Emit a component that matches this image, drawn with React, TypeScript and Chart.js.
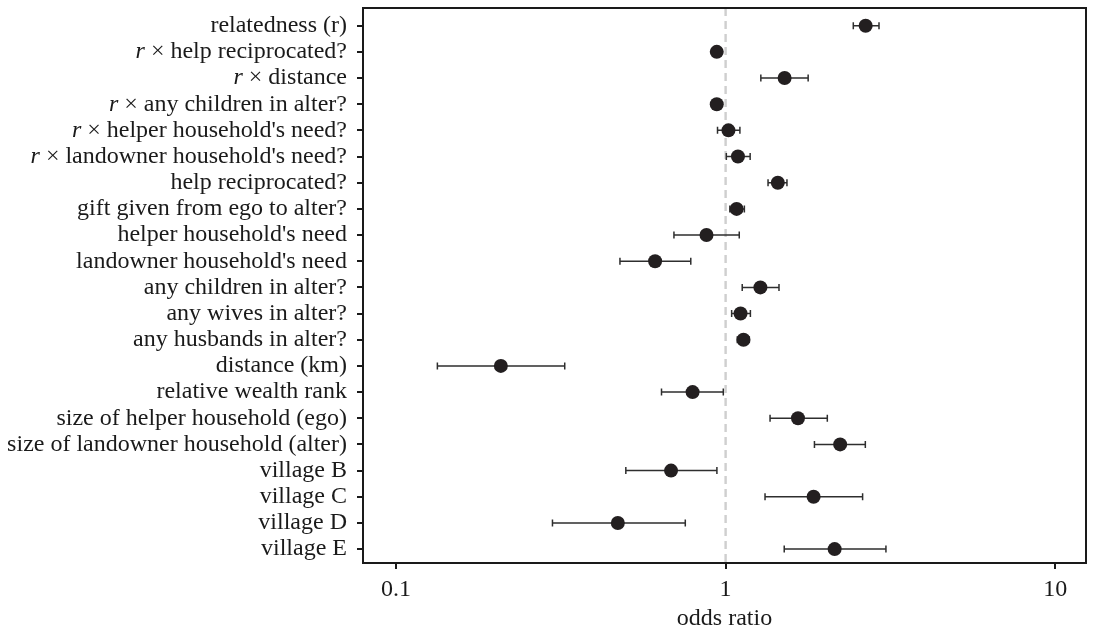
import React, { useEffect, useRef } from "react";
import { Chart, registerables } from "chart.js";

Chart.register(...registerables);

const categories: string[] = [
  "relatedness (r)",
  "r × help reciprocated?",
  "r × distance",
  "r × any children in alter?",
  "r × helper household's need?",
  "r × landowner household's need?",
  "help reciprocated?",
  "gift given from ego to alter?",
  "helper household's need",
  "landowner household's need",
  "any children in alter?",
  "any wives in alter?",
  "any husbands in alter?",
  "distance (km)",
  "relative wealth rank",
  "size of helper household (ego)",
  "size of landowner household (alter)",
  "village B",
  "village C",
  "village D",
  "village E",
];

const oddsRatio: number[] = [2.66, 0.94, 1.51, 0.94, 1.02, 1.09, 1.44, 1.08, 0.875, 0.611, 1.275, 1.11, 1.133, 0.208, 0.794, 1.658, 2.226, 0.683, 1.849, 0.471, 2.142];
const lowerCI: number[] = [2.44, 0.925, 1.279, 0.925, 0.945, 1.005, 1.345, 1.03, 0.697, 0.478, 1.123, 1.043, 1.085, 0.1335, 0.639, 1.364, 1.86, 0.498, 1.317, 0.2983, 1.506];
const upperCI: number[] = [2.92, 0.955, 1.78, 0.955, 1.105, 1.187, 1.535, 1.14, 1.1, 0.784, 1.452, 1.189, 1.18, 0.325, 0.984, 2.035, 2.654, 0.941, 2.604, 0.7545, 3.065];

const xTicks: number[] = [0.1, 1, 10];
const xTickLabels: string[] = ["0.1", "1", "10"];
const referenceValue = 1;

const FONT = "'Liberation Serif', 'Times New Roman', serif";
const FONT_SIZE = 24;

export default function App() {
  const ref = useRef<HTMLCanvasElement | null>(null);

  useEffect(() => {
    const canvas = ref.current;
    if (!canvas) return;

    const decorations = {
      id: "forestDecor",
      beforeDatasetsDraw(chart: any) {
        const { ctx, chartArea, scales } = chart;
        const xs = scales.x;
        const ys = scales.y;
        ctx.save();
        const rx = xs.getPixelForValue(referenceValue);
        ctx.strokeStyle = "#cfcfcf";
        ctx.lineWidth = 2.4;
        ctx.setLineDash([8, 5]);
        ctx.beginPath();
        ctx.moveTo(rx, chartArea.top);
        ctx.lineTo(rx, chartArea.bottom);
        ctx.stroke();
        ctx.setLineDash([]);
        ctx.strokeStyle = "#2e2e2e";
        ctx.lineWidth = 1.5;
        for (let i = 0; i < categories.length; i++) {
          const y = ys.getPixelForValue(i);
          const x1 = xs.getPixelForValue(lowerCI[i]);
          const x2 = xs.getPixelForValue(upperCI[i]);
          ctx.beginPath();
          ctx.moveTo(x1, y);
          ctx.lineTo(x2, y);
          ctx.moveTo(x1, y - 3.5);
          ctx.lineTo(x1, y + 3.5);
          ctx.moveTo(x2, y - 3.5);
          ctx.lineTo(x2, y + 3.5);
          ctx.stroke();
        }
        ctx.restore();
      },
      afterDraw(chart: any) {
        const { ctx, chartArea, scales } = chart;
        const ys = scales.y;
        ctx.save();
        ctx.strokeStyle = "#1a1a1a";
        ctx.lineWidth = 2;
        ctx.strokeRect(chartArea.left, chartArea.top, chartArea.right - chartArea.left, chartArea.bottom - chartArea.top);
        ctx.fillStyle = "#1a1a1a";
        ctx.textBaseline = "middle";
        const xr = chartArea.left - 16;
        for (let i = 0; i < categories.length; i++) {
          const y = ys.getPixelForValue(i);
          const label = categories[i];
          if (label.startsWith("r × ")) {
            const rest = label.slice(1);
            ctx.font = `${FONT_SIZE}px ${FONT}`;
            const wRest = ctx.measureText(rest).width;
            ctx.textAlign = "left";
            ctx.fillText(rest, xr - wRest, y);
            ctx.font = `italic ${FONT_SIZE}px ${FONT}`;
            ctx.textAlign = "right";
            ctx.fillText("r", xr - wRest, y);
          } else {
            ctx.font = `${FONT_SIZE}px ${FONT}`;
            ctx.textAlign = "right";
            ctx.fillText(label, xr, y);
          }
        }
        ctx.restore();
      },
    };

    const chart = new Chart(canvas, {
      type: "scatter",
      data: {
        datasets: [
          {
            data: oddsRatio.map((v, i) => ({ x: v, y: i })),
            backgroundColor: "#231f20",
            borderColor: "#231f20",
            pointRadius: 7,
            pointHoverRadius: 7,
            borderWidth: 0,
          },
        ],
      },
      options: {
        animation: false,
        responsive: false,
        devicePixelRatio: 1,
        events: [],
        layout: { padding: { left: 0, top: 8, right: 1, bottom: 0 } },
        plugins: { legend: { display: false }, tooltip: { enabled: false } },
        scales: {
          x: {
            type: "logarithmic",
            min: 0.0794,
            max: 12.4,
            afterBuildTicks: (scale: any) => {
              scale.ticks = xTicks.map((v) => ({ value: v }));
            },
            afterFit: (scale: any) => {
              scale.height = 68;
              scale.paddingLeft = 0;
              scale.paddingRight = 0;
            },
            ticks: {
              autoSkip: false,
              maxRotation: 0,
              padding: 6,
              color: "#1a1a1a",
              font: { family: FONT, size: FONT_SIZE },
              callback: (value: any) => {
                const idx = xTicks.indexOf(Number(value));
                return idx >= 0 ? xTickLabels[idx] : "";
              },
            },
            grid: {
              display: true,
              drawOnChartArea: false,
              drawTicks: true,
              tickLength: 6,
              color: "#1a1a1a",
              lineWidth: 2,
            },
            border: { display: false },
            title: {
              display: true,
              text: "odds ratio",
              color: "#1a1a1a",
              font: { family: FONT, size: FONT_SIZE, lineHeight: 1.05 },
              padding: { top: 0, bottom: 0 },
            },
          },
          y: {
            type: "linear",
            reverse: true,
            min: -0.676,
            max: 20.531,
            afterBuildTicks: (scale: any) => {
              scale.ticks = categories.map((_, i) => ({ value: i }));
            },
            afterFit: (scale: any) => {
              scale.width = 363;
              scale.paddingTop = 0;
              scale.paddingBottom = 0;
            },
            ticks: { display: false },
            grid: {
              display: true,
              drawOnChartArea: false,
              drawTicks: true,
              tickLength: 6,
              color: "#1a1a1a",
              lineWidth: 2,
            },
            border: { display: false },
          },
        },
      },
      plugins: [decorations],
    } as any);

    return () => chart.destroy();
  }, []);

  return (
    <div style={{ position: "fixed", left: 0, top: 0, width: 1093, height: 631, background: "#fff" }}>
      <canvas ref={ref} width={1093} height={631} style={{ width: 1093, height: 631, display: "block" }} />
    </div>
  );
}
